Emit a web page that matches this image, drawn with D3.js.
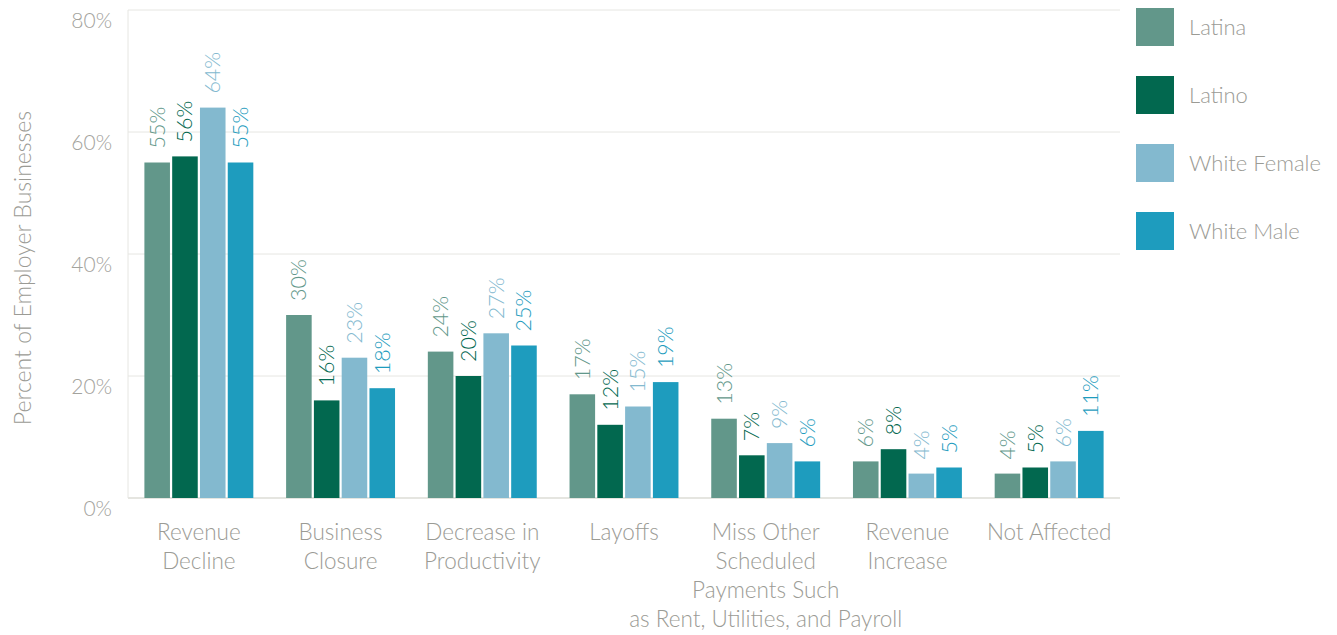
<!DOCTYPE html>
<html><head><meta charset="utf-8">
<script src="https://cdn.jsdelivr.net/npm/d3@7"></script>
<style>body{margin:0;background:#fff}svg{font-family:Lato,"Open Sans",sans-serif;font-weight:300}</style>
</head><body><svg id="c" width="1337" height="635"></svg>
<script>
const categories = [["Revenue","Decline"],["Business","Closure"],["Decrease in","Productivity"],["Layoffs"],["Miss Other","Scheduled","Payments Such","as Rent, Utilities, and Payroll"],["Revenue","Increase"],["Not Affected"]];
const series = ["Latina","Latino","White Female","White Male"];
const colors = ["#62978a","#02684f","#83b9cf","#1e9cbe"];
const latina = [55,30,24,17,13,6,4];
const latino = [56,16,20,12,7,8,5];
const whiteFemale = [64,23,27,15,9,4,6];
const whiteMale = [55,18,25,19,6,5,11];
const yTicks = [0,20,40,60,80];
const values = [latina, latino, whiteFemale, whiteMale];

const svg = d3.select("#c");
const m = {l:128, r:1120, t:10, b:498};
const x0 = d3.scaleBand().domain(d3.range(categories.length)).range([m.l, m.r]).paddingInner(0.2).paddingOuter(0.1);
const x1 = d3.scaleBand().domain(d3.range(series.length)).range([0, x0.bandwidth()]).padding(0.08);
const y = d3.scaleLinear().domain([0,80]).range([m.b, m.t]);

// grid
svg.append("g").selectAll("line").data(yTicks).join("line")
  .attr("x1", m.l).attr("x2", m.r).attr("y1", d=>y(d)).attr("y2", d=>y(d))
  .attr("stroke", d=> d===0 ? "#dcdcd6" : "#e6e6e2").attr("stroke-width", d=>d===0?1.5:1);
svg.append("line").attr("x1", m.l).attr("x2", m.l).attr("y1", m.t).attr("y2", m.b).attr("stroke","#e6e6e2");

// y tick labels
svg.append("g").selectAll("text").data(yTicks).join("text")
  .attr("x", 112).attr("y", d=>y(d)+18).attr("text-anchor","end")
  .attr("font-size", 21).attr("fill","#a3a39d").text(d=>d+"%");

// y title
svg.append("text").attr("transform","translate(31,268) rotate(-90)").attr("text-anchor","middle")
  .attr("font-size", 23).attr("fill","#9b9b95").text("Percent of Employer Businesses");

// bars
const g = svg.append("g").selectAll("g").data(categories).join("g")
  .attr("transform", (d,i)=>`translate(${x0(i)},0)`);
g.each(function(c, ci){
  const sel = d3.select(this);
  series.forEach((s, si)=>{
    const v = values[si][ci];
    sel.append("rect").attr("x", x1(si)).attr("width", x1.bandwidth())
      .attr("y", y(v)).attr("height", y(0)-y(v)).attr("fill", colors[si]);
    const cx = x1(si) + x1.bandwidth()/2;
    sel.append("text").attr("transform", `translate(${cx+7.5},${y(v)-14}) rotate(-90)`)
      .attr("font-size", 21.5).attr("fill", colors[si]).text(v+"%");
  });
  const t = sel.append("text").attr("text-anchor","middle").attr("font-size",22.5).attr("fill","#9b9b95");
  c.forEach((line, li)=>{
    t.append("tspan").attr("x", x0.bandwidth()/2).attr("y", 540 + li*29).text(line);
  });
});

// legend
const lg = svg.append("g").selectAll("g").data(series).join("g")
  .attr("transform",(d,i)=>`translate(1136,${8+i*68})`);
lg.append("rect").attr("width",38).attr("height",38).attr("fill",(d,i)=>colors[i]);
lg.append("text").attr("x",53).attr("y",27).attr("font-size",22).attr("fill","#9b9b95").text(d=>d);
</script></body></html>
